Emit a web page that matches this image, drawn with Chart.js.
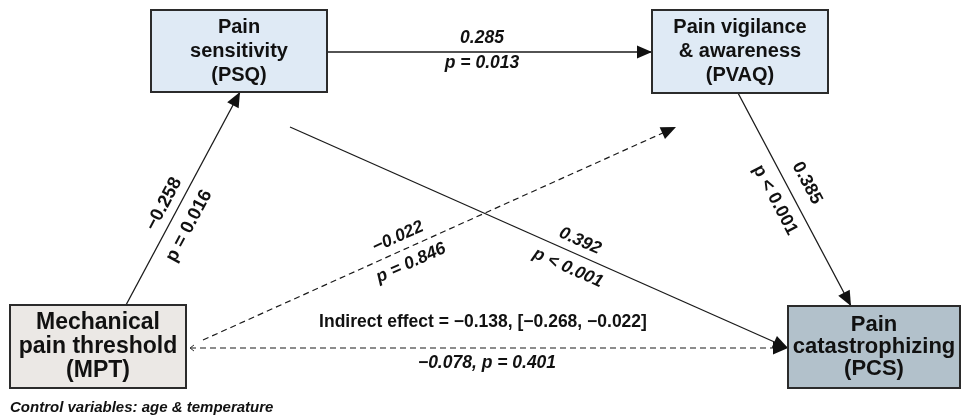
<!DOCTYPE html>
<html>
<head>
<meta charset="utf-8">
<script src="https://cdn.jsdelivr.net/npm/chart.js@4/dist/chart.umd.min.js"></script>
<style>
  html, body { margin: 0; padding: 0; background: #fff; }
  #wrap { width: 962px; height: 416px; }
</style>
</head>
<body>
<div id="wrap"><canvas id="diagram" width="962" height="416"></canvas></div>
<script>
'use strict';

// ── Data ──────────────────────────────────────────────────────
const nodeIds    = ['MPT', 'PSQ', 'PVAQ', 'PCS'];
const nodeLines  = [
  ['Mechanical', 'pain threshold', '(MPT)'],
  ['Pain', 'sensitivity', '(PSQ)'],
  ['Pain vigilance', '& awareness', '(PVAQ)'],
  ['Pain', 'catastrophizing', '(PCS)']
];
const pathFrom   = ['PSQ', 'MPT', 'PVAQ', 'MPT', 'PSQ', 'MPT'];
const pathTo     = ['PVAQ', 'PSQ', 'PCS', 'PVAQ', 'PCS', 'PCS'];
const pathCoef   = [0.285, -0.258, 0.385, -0.022, 0.392, -0.078];
const pathPOp    = ['=', '=', '<', '=', '<', '='];
const pathP      = [0.013, 0.016, 0.001, 0.846, 0.001, 0.401];
const indirectEffect = [-0.138, -0.268, -0.022];   // estimate, CI low, CI high
const controlNote = 'Control variables: age & temperature';

// ── Layout (pixels, identical to scale units) ─────────────────
const FONT = '"Liberation Sans", Arial, Helvetica, sans-serif';
const boxLayout = {
  MPT:  { x0: 10,  y0: 305, x1: 186, y1: 388, fill: '#ebe8e5', size: 23, lh: 24 },
  PSQ:  { x0: 151, y0: 10,  x1: 327, y1: 92,  fill: '#dfeaf5', size: 20, lh: 24 },
  PVAQ: { x0: 652, y0: 10,  x1: 828, y1: 93,  fill: '#dfeaf5', size: 20, lh: 24 },
  PCS:  { x0: 788, y0: 306, x1: 960, y1: 388, fill: '#b2c1cb', size: 22, lh: 22 }
};
const edgeLayout = [
  { a: [327, 52],  b: [652, 52],  coefAt: [482, 38],  pAt: [482, 63],  rotate: false, italic: true,  size: 17.5 },
  { a: [126, 305], b: [240, 92],  coefAt: [164, 204], pAt: [189, 226], rotate: true,  italic: false, size: 18.5 },
  { a: [738, 93],  b: [851, 306], coefAt: [807, 183], pAt: [775, 200], rotate: true,  italic: false, size: 18 },
  { a: [203, 340], b: [676, 127], coefAt: [398, 237], pAt: [411, 263], rotate: true,  italic: true,  size: 17.5 },
  { a: [290, 127], b: [788, 348], coefAt: [580, 241], pAt: [568, 268], rotate: true,  italic: true,  size: 17.5 },
  { a: [190, 348], b: [788, 348], coefAt: [487, 363], pAt: null,      rotate: false, italic: true,  size: 17.5 }
];
const indirectAt = [483, 322];
const noteAt     = [10, 408];

// ── Helpers ───────────────────────────────────────────────────
const fmt = v => (v < 0 ? '\u2212' : '') + Math.abs(v).toFixed(3);
const fmtP = i => `p ${pathPOp[i]} ${pathP[i].toFixed(3)}`;

const datasets = pathFrom.map((from, i) => {
  const e = edgeLayout[i];
  return {
    label: `${from} \u2192 ${pathTo[i]}`,
    data: [{ x: e.a[0], y: e.a[1] }, { x: e.b[0], y: e.b[1] }],
    showLine: true,
    borderColor: '#1a1a1a',
    borderWidth: pathP[i] < 0.05 ? 1.3 : 1.2,
    borderDash: pathP[i] < 0.05 ? [] : [6, 4],
    pointRadius: 0,
    fill: false
  };
});

function arrowHead(ctx, x0, y0, x1, y1, len = 15, half = 6.5) {
  const ang = Math.atan2(y1 - y0, x1 - x0);
  ctx.save();
  ctx.translate(x1, y1);
  ctx.rotate(ang);
  ctx.beginPath();
  ctx.moveTo(0, 0);
  ctx.lineTo(-len, -half);
  ctx.lineTo(-len, half);
  ctx.closePath();
  ctx.fillStyle = '#111';
  ctx.fill();
  ctx.restore();
}

function textAt(ctx, str, x, y, angle, font) {
  ctx.save();
  ctx.translate(x, y);
  ctx.rotate(angle);
  ctx.font = font;
  ctx.fillStyle = '#111';
  ctx.textAlign = 'center';
  ctx.textBaseline = 'middle';
  ctx.fillText(str, 0, 0);
  ctx.restore();
}

// ── Diagram plugin ────────────────────────────────────────────
const diagramPlugin = {
  id: 'pathDiagram',
  afterDatasetsDraw(chart) {
    const { ctx, scales: { x, y } } = chart;
    const px = v => x.getPixelForValue(v);
    const py = v => y.getPixelForValue(v);

    // arrowheads
    pathFrom.forEach((from, i) => {
      const e = edgeLayout[i];
      arrowHead(ctx, px(e.a[0]), py(e.a[1]), px(e.b[0]), py(e.b[1]));
    });
    // small open tick at the MPT end of the direct path
    const d = edgeLayout[5];
    ctx.save();
    ctx.strokeStyle = '#333';
    ctx.lineWidth = 1;
    ctx.beginPath();
    ctx.moveTo(px(d.a[0]) + 4, py(d.a[1]) - 3);
    ctx.lineTo(px(d.a[0]), py(d.a[1]));
    ctx.lineTo(px(d.a[0]) + 4, py(d.a[1]) + 3);
    ctx.stroke();
    ctx.restore();

    // boxes
    nodeIds.forEach((id, i) => {
      const b = boxLayout[id];
      const bx = px(b.x0), by = py(b.y0), bw = px(b.x1) - bx, bh = py(b.y1) - by;
      ctx.save();
      ctx.fillStyle = b.fill;
      ctx.fillRect(bx, by, bw, bh);
      ctx.strokeStyle = '#2b2b2b';
      ctx.lineWidth = 2;
      ctx.strokeRect(bx, by, bw, bh);
      ctx.restore();
      const lines = nodeLines[i];
      const cx = bx + bw / 2, cy = by + bh / 2;
      lines.forEach((ln, k) => {
        textAt(ctx, ln, cx, cy + (k - (lines.length - 1) / 2) * b.lh, 0, `bold ${b.size}px ${FONT}`);
      });
    });

    // path labels
    pathFrom.forEach((from, i) => {
      const e = edgeLayout[i];
      const ang = e.rotate ? Math.atan2(e.b[1] - e.a[1], e.b[0] - e.a[0]) : 0;
      const font = `${e.italic ? 'italic ' : ''}bold ${e.size}px ${FONT}`;
      if (e.pAt) {
        textAt(ctx, fmt(pathCoef[i]), px(e.coefAt[0]), py(e.coefAt[1]), ang, font);
        textAt(ctx, fmtP(i), px(e.pAt[0]), py(e.pAt[1]), ang, font);
      } else {
        textAt(ctx, `${fmt(pathCoef[i])}, ${fmtP(i)}`, px(e.coefAt[0]), py(e.coefAt[1]), ang, font);
      }
    });

    const [est, lo, hi] = indirectEffect;
    textAt(ctx, `Indirect effect = ${fmt(est)}, [${fmt(lo)}, ${fmt(hi)}]`,
      px(indirectAt[0]), py(indirectAt[1]), 0, `bold 17.5px ${FONT}`);

    ctx.save();
    ctx.font = `italic bold 15px ${FONT}`;
    ctx.fillStyle = '#111';
    ctx.textAlign = 'left';
    ctx.textBaseline = 'middle';
    ctx.fillText(controlNote, px(noteAt[0]), py(noteAt[1]));
    ctx.restore();
  }
};

// ── Chart ─────────────────────────────────────────────────────
new Chart(document.getElementById('diagram'), {
  type: 'scatter',
  data: { datasets },
  plugins: [diagramPlugin],
  options: {
    responsive: false,
    animation: false,
    events: [],
    layout: { padding: 0 },
    plugins: { legend: { display: false }, tooltip: { enabled: false } },
    scales: {
      x: { type: 'linear', min: 0, max: 962, display: false },
      y: { type: 'linear', min: 0, max: 416, reverse: true, display: false }
    }
  }
});
</script>
</body>
</html>
